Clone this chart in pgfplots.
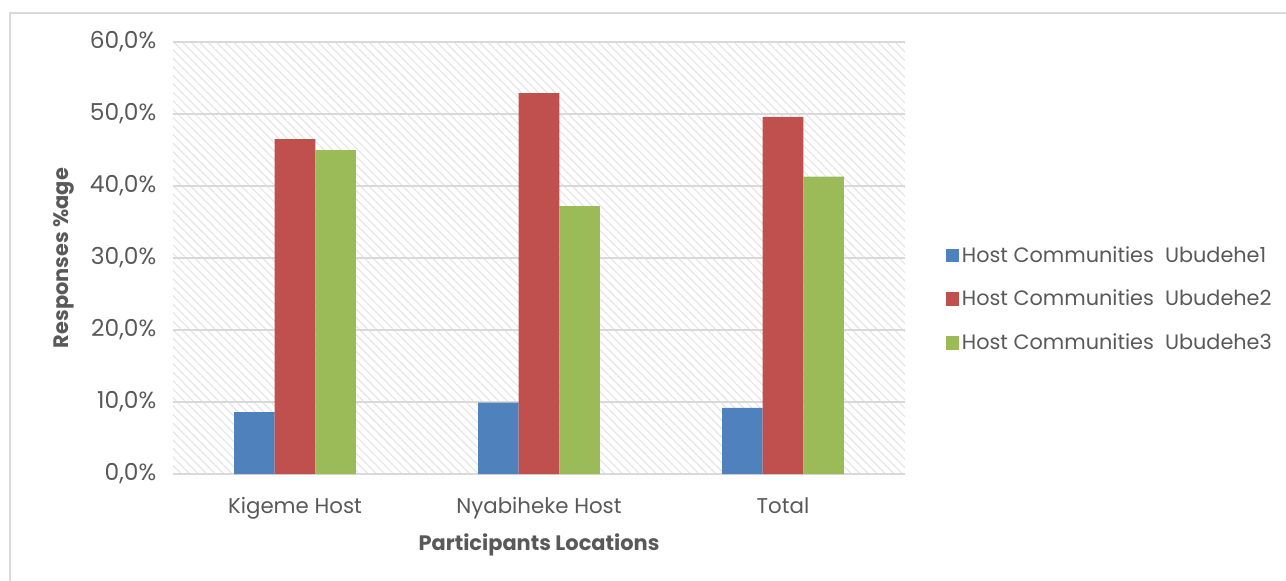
\documentclass[border=0pt]{standalone}
\usepackage{pgfplots}
\pgfplotsset{compat=1.18}
\usetikzlibrary{patterns.meta}
\usepackage{fontspec}
\setmainfont{Poppins}
\definecolor{cblue}{HTML}{4F81BD}
\definecolor{cred}{HTML}{C0504D}
\definecolor{cgreen}{HTML}{9BBB59}
\definecolor{ctext}{HTML}{595959}
\definecolor{cgrid}{HTML}{D9D9D9}
\begin{document}
\begin{tikzpicture}
\useasboundingbox (0pt,0pt) rectangle (964.5pt,-435.75pt);
\draw[cgrid, line width=1.2pt] (7.5pt,-435.75pt) -- (7.5pt,-9.75pt) -- (964.5pt,-9.75pt);
\begin{axis}[
  at={(129.75pt,-355.5pt)}, anchor=south west,
  scale only axis, width=549pt, height=324pt,
  ybar=0pt, bar width=0.166,
  xmin=-0.5, xmax=2.5, ymin=0, ymax=60,
  xtick={0,1,2}, xticklabels={Kigeme Host, Nyabiheke Host, Total},
  ytick={0,10,20,30,40,50,60},
  yticklabels={{0,0\%},{10,0\%},{20,0\%},{30,0\%},{40,0\%},{50,0\%},{60,0\%}},
  major tick length=0pt,
  axis line style={draw=none},
  ymajorgrids, grid style={cgrid, line width=1pt},
  axis background/.style={pattern={Lines[angle=-45,distance=4.5pt,line width=0.9pt]}, pattern color=black!10},
  yticklabel style={font=\fontsize{17.5}{20}\selectfont, text=ctext, xshift=-9pt},
  xticklabel style={font=\fontsize{16}{19}\selectfont, text=ctext, yshift=-14pt},
  xlabel={\textbf{Participants Locations}},
  ylabel={\textbf{Responses \%age}},
  label style={font=\fontsize{15.7}{18}\selectfont, text=ctext},
  xlabel style={yshift=-4pt},
  ylabel style={yshift=5pt},
  legend style={at={(1.05,0.405)}, anchor=west, draw=none, fill=none,
    font=\fontsize{15.6}{18}\selectfont, text=ctext, row sep=15.5pt,
    /tikz/every even column/.append style={column sep=0pt}},
  legend cell align=left,
  legend image code/.code={\fill[#1] (0pt,-5pt) rectangle (10pt,5pt);},
]
\addplot[fill=cblue, draw=none] coordinates {(0,8.6) (1,9.9) (2,9.2)};
\addplot[fill=cred, draw=none] coordinates {(0,46.5) (1,52.9) (2,49.6)};
\addplot[fill=cgreen, draw=none] coordinates {(0,45.0) (1,37.2) (2,41.3)};
\legend{Host Communities\ \ Ubudehe1, Host Communities\ \ Ubudehe2, Host Communities\ \ Ubudehe3}
\end{axis}
\end{tikzpicture}
\end{document}
